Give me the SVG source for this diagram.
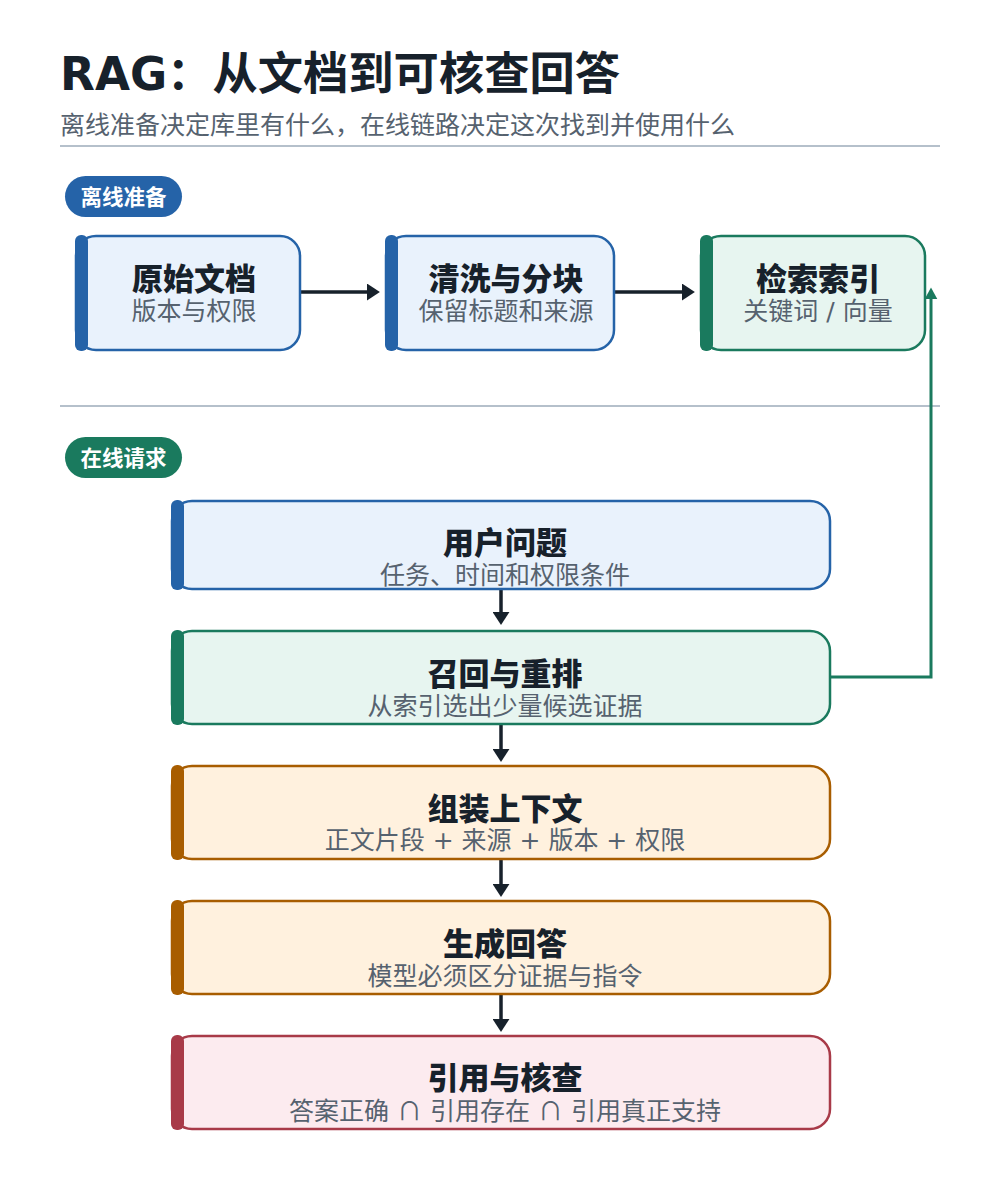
<svg xmlns="http://www.w3.org/2000/svg" width="1000" height="1200" viewBox="0 0 1000 1200">
<defs>
<style>
text{font-family:"DejaVu Sans","Noto Sans CJK SC",sans-serif;}
.h1{font-size:45.3px;font-weight:700;fill:#17212b;}
.sub{font-size:25px;fill:#56626f;}
.pill-t{font-size:21.5px;font-weight:700;fill:#ffffff;}
.nt{font-size:31px;font-weight:800;fill:#17212b;text-anchor:middle;}
.ns{font-size:25px;fill:#56626f;text-anchor:middle;}
.cap{font-family:"Noto Sans CJK SC",sans-serif;}
.sep{stroke:#b5c0cb;stroke-width:2;}
.blue .box{fill:#e9f2fc;stroke:#2563a8;}
.blue .bar{fill:#2563a8;}
.green .box{fill:#e7f5f0;stroke:#1a7a5e;}
.green .bar{fill:#1a7a5e;}
.orange .box{fill:#fff1de;stroke:#a85d00;}
.orange .bar{fill:#a85d00;}
.red .box{fill:#fcebef;stroke:#a83a48;}
.red .bar{fill:#a83a48;}
.box{stroke-width:2.5;}
.dark{stroke:#17212b;stroke-width:3.5;fill:none;}
.gline{stroke:#1a7a5e;stroke-width:3;fill:none;}
</style>
<marker id="ad" viewBox="0 0 10 10" refX="7" refY="5" markerUnits="userSpaceOnUse" markerWidth="13" markerHeight="17" orient="auto" preserveAspectRatio="none">
<path d="M0,0 L10,5 L0,10 z" fill="#17212b"/>
</marker>
<marker id="ag" viewBox="0 0 10 10" refX="7" refY="5" markerUnits="userSpaceOnUse" markerWidth="12" markerHeight="13" orient="auto" preserveAspectRatio="none">
<path d="M0,0 L10,5 L0,10 z" fill="#1a7a5e"/>
</marker>
</defs>
<rect width="1000" height="1200" fill="#ffffff"/>

<g id="header">
<text class="h1" x="60" y="90">RAG：从文档到可核查回答</text>
<text class="sub" x="60" y="134">离线准备决定库里有什么，在线链路决定这次找到并使用什么</text>
<line class="sep" x1="60" y1="146" x2="940" y2="146"/>
<line class="sep" x1="60" y1="406" x2="940" y2="406"/>
</g>

<g id="pill-offline">
<rect x="65" y="176" width="117" height="41" rx="20.5" fill="#2563a8"/>
<text class="pill-t" x="123.5" y="204.5" text-anchor="middle">离线准备</text>
</g>
<g id="pill-online">
<rect x="65" y="437" width="117" height="41" rx="20.5" fill="#1a7a5e"/>
<text class="pill-t" x="123.5" y="465.5" text-anchor="middle">在线请求</text>
</g>

<g id="connectors">
<path class="dark" d="M300,292 H376" marker-end="url(#ad)"/>
<path class="dark" d="M614,292 H691" marker-end="url(#ad)"/>
<path class="dark" d="M501,589 V621" marker-end="url(#ad)"/>
<path class="dark" d="M501,724 V758" marker-end="url(#ad)"/>
<path class="dark" d="M501,859 V893" marker-end="url(#ad)"/>
<path class="dark" d="M501,994 V1028" marker-end="url(#ad)"/>
<path class="gline" d="M830,677 H931 V291" marker-end="url(#ag)"/>
</g>

<g id="node-raw" class="blue">
<rect class="box" x="76" y="236" width="224" height="114" rx="20"/>
<rect class="bar" x="75" y="235" width="13" height="116" rx="6"/>
<text class="nt" x="194" y="290">原始文档</text>
<text class="ns" x="194" y="320">版本与权限</text>
</g>
<g id="node-clean" class="blue">
<rect class="box" x="386" y="236" width="228" height="114" rx="20"/>
<rect class="bar" x="385" y="235" width="13" height="116" rx="6"/>
<text class="nt" x="506" y="290">清洗与分块</text>
<text class="ns" x="506" y="320">保留标题和来源</text>
</g>
<g id="node-index" class="green">
<rect class="box" x="701" y="236" width="224" height="114" rx="20"/>
<rect class="bar" x="700" y="235" width="13" height="116" rx="6"/>
<text class="nt" x="818" y="290">检索索引</text>
<text class="ns" x="818" y="320">关键词 / 向量</text>
</g>

<g id="node-question" class="blue">
<rect class="box" x="172" y="501" width="658" height="88" rx="20"/>
<rect class="bar" x="171" y="500" width="13" height="90" rx="6"/>
<text class="nt" x="505" y="554">用户问题</text>
<text class="ns" x="505" y="584">任务、时间和权限条件</text>
</g>
<g id="node-retrieve" class="green">
<rect class="box" x="172" y="631" width="658" height="93" rx="20"/>
<rect class="bar" x="171" y="630" width="13" height="95" rx="6"/>
<text class="nt" x="505" y="685">召回与重排</text>
<text class="ns" x="505" y="715">从索引选出少量候选证据</text>
</g>
<g id="node-context" class="orange">
<rect class="box" x="172" y="766" width="658" height="93" rx="20"/>
<rect class="bar" x="171" y="765" width="13" height="95" rx="6"/>
<text class="nt" x="505" y="820">组装上下文</text>
<text class="ns" x="505" y="849">正文片段 + 来源 + 版本 + 权限</text>
</g>
<g id="node-generate" class="orange">
<rect class="box" x="172" y="901" width="658" height="93" rx="20"/>
<rect class="bar" x="171" y="900" width="13" height="95" rx="6"/>
<text class="nt" x="505" y="955">生成回答</text>
<text class="ns" x="505" y="985">模型必须区分证据与指令</text>
</g>
<g id="node-verify" class="red">
<rect class="box" x="172" y="1036" width="658" height="93" rx="20"/>
<rect class="bar" x="171" y="1035" width="13" height="95" rx="6"/>
<text class="nt" x="505" y="1089">引用与核查</text>
<text class="ns" x="505" y="1120">答案正确 <tspan class="cap">∩</tspan> 引用存在 <tspan class="cap">∩</tspan> 引用真正支持</text>
</g>
</svg>
